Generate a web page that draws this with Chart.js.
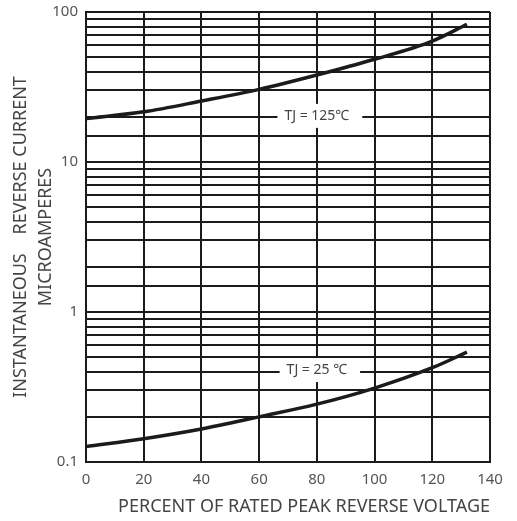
<!DOCTYPE html>
<html>
<head>
<meta charset="utf-8">
<script src="https://cdn.jsdelivr.net/npm/chart.js@4.4.0/dist/chart.umd.min.js"></script>
<style>
  html, body { margin: 0; padding: 0; background: #fff; }
</style>
</head>
<body>
<canvas id="chart" width="517" height="521"></canvas>
<script>
// percent of rated peak reverse voltage
const percentRated = [0, 20, 40, 60, 80, 100, 120, 132];
// instantaneous reverse current, microamperes
const current125 = [19.5, 21.6, 25.5, 30.5, 38, 48.4, 64, 82.8];
const current25 = [0.127, 0.143, 0.166, 0.2, 0.243, 0.311, 0.425, 0.54];
const xTicks = [0, 20, 40, 60, 80, 100, 120, 140];
const yLabelTicks = [0.1, 1, 10, 100];
const curveLabels = [
  { text: 'TJ = 125℃', x: 80, y: 20.3 },
  { text: 'TJ = 25 ℃', x: 80, y: 0.41 }
];

const ink = '#1b1b1b';
const fontFamily = '"Noto Sans", "DejaVu Sans", sans-serif';

function toPoints(ys) {
  return percentRated.map((x, i) => ({ x: x, y: ys[i] }));
}

// white boxed labels sitting on the grid
const curveLabelPlugin = {
  id: 'curveLabels',
  afterDatasetsDraw(chart) {
    const ctx = chart.ctx;
    const xs = chart.scales.x, ys = chart.scales.y;
    ctx.save();
    ctx.font = '14px ' + fontFamily;
    ctx.textBaseline = 'middle';
    curveLabels.forEach(l => {
      const px = xs.getPixelForValue(l.x);
      const py = ys.getPixelForValue(l.y);
      const w = ctx.measureText(l.text).width;
      ctx.fillStyle = '#fff';
      ctx.fillRect(px - w / 2 - 7, py - 12, w + 20, 24);
      ctx.fillStyle = '#444';
      ctx.textAlign = 'center';
      ctx.fillText(l.text, px, py);
    });
    ctx.restore();
  }
};

new Chart(document.getElementById('chart'), {
  type: 'line',
  data: {
    datasets: [
      { data: toPoints(current125), borderColor: ink, borderWidth: 3.5, pointRadius: 0,
        cubicInterpolationMode: 'monotone', fill: false },
      { data: toPoints(current25), borderColor: ink, borderWidth: 3.5, pointRadius: 0,
        cubicInterpolationMode: 'monotone', fill: false }
    ]
  },
  options: {
    responsive: false,
    animation: false,
    devicePixelRatio: 1,
    layout: { padding: { left: 8, top: 12, right: 27, bottom: 0 } },
    plugins: { legend: { display: false }, tooltip: { enabled: false } },
    scales: {
      x: {
        type: 'linear',
        min: 0,
        max: 140,
        afterBuildTicks: s => { s.ticks = xTicks.map(v => ({ value: v })); },
        afterFit: s => { s.height = 59; },
        grid: { color: ink, lineWidth: 2, drawTicks: false },
        border: { color: ink, width: 2 },
        ticks: { padding: 9, color: '#555', font: { family: fontFamily, size: 15 } },
        title: {
          display: true,
          text: 'PERCENT OF RATED PEAK REVERSE VOLTAGE',
          align: 'end',
          color: '#444',
          padding: { top: 0, bottom: 3 },
          font: { family: fontFamily, size: 18 }
        }
      },
      y: {
        type: 'logarithmic',
        min: 0.1,
        max: 100,
        afterFit: s => { s.width = 78; s.paddingTop = 0; s.paddingBottom = 0; },
        grid: { color: ink, lineWidth: 2, drawTicks: false },
        border: { color: ink, width: 2 },
        ticks: {
          autoSkip: false,
          padding: 8,
          color: '#555',
          font: { family: fontFamily, size: 15 },
          callback: v => {
            const isDecade = yLabelTicks.some(t => Math.abs(t - v) < 1e-9 * Math.max(1, v));
            return isDecade ? String(v) : '';
          }
        },
        title: {
          display: true,
          text: ['INSTANTANEOUS    REVERSE CURRENT', 'MICROAMPERES'],
          color: '#444',
          padding: { top: 0, bottom: 0 },
          font: { family: fontFamily, size: 18, lineHeight: 1.39 }
        }
      }
    }
  },
  plugins: [curveLabelPlugin]
});
</script>
</body>
</html>
